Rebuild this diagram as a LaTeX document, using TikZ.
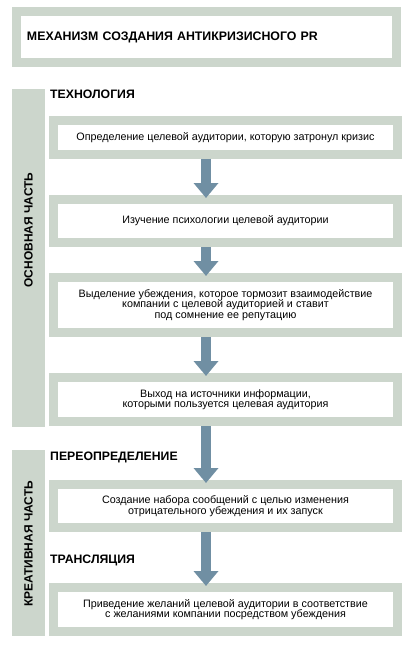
\documentclass[tikz,border=0pt]{standalone}
\usepackage{fontspec}
\setmainfont{Liberation Sans}
\usepackage{xcolor}
\usepackage{tikz}
\usetikzlibrary{positioning,arrows.meta}

\definecolor{framegrey}{RGB}{204,214,204}
\definecolor{arrowblue}{RGB}{112,143,163}

\begin{document}
\begin{tikzpicture}[x=1bp, y=-1bp,
  stepbox/.style={draw=framegrey, line width=9bp, fill=white, minimum width=344bp,
    align=center, inner sep=0pt, font=\fontsize{10.8}{10.6}\selectfont},
  heading/.style={anchor=base west, inner sep=0pt, font=\bfseries\fontsize{12.3}{14}\selectfont},
  sidebar/.style={fill=framegrey, minimum width=33bp, inner sep=0pt},
  sidelabel/.style={rotate=90, inner sep=0pt, font=\bfseries\fontsize{12}{14}\selectfont},
  flow/.style={draw=arrowblue, line width=10bp, -{Triangle[width=24bp, length=15bp]}, shorten >=-3bp}]

\useasboundingbox (0,0) rectangle (411,647);

% title %
\node[draw=framegrey, line width=9bp, fill=white, minimum width=380bp, minimum height=51bp,
  text width=359bp, inner xsep=10.5bp, align=left, font=\bfseries\fontsize{12.4}{14}\selectfont]
  (title) at (206.5,37) {МЕХАНИЗМ СОЗДАНИЯ АНТИКРИЗИСНОГО PR};

% side bars %
\node[sidebar, minimum height=338bp] (mainbar) at (28.5,258) {};
\node[sidebar, minimum height=186bp] (creabar) at (28.5,543) {};
\node[sidelabel] (mainlbl) at (28.5,230) {ОСНОВНАЯ ЧАСТЬ};
\node[sidelabel] (crealbl) at (28.5,544) {КРЕАТИВНАЯ ЧАСТЬ};

% headings %
\node[heading] (tech) at (50,99) {ТЕХНОЛОГИЯ};
\node[heading] (redef) at (50,460) {ПЕРЕОПРЕДЕЛЕНИЕ};
\node[heading] (trans) at (50,563) {ТРАНСЛЯЦИЯ};

% steps %
\node[stepbox, minimum height=34bp] (s1) at (225.5,137.5)
  {Определение целевой аудитории, которую затронул кризис};
\node[stepbox, minimum height=43bp, below=36bp of s1] (s2)
  {Изучение психологии целевой аудитории};
\node[stepbox, minimum height=55bp, below=26bp of s2] (s3)
  {Выделение убеждения, которое тормозит взаимодействие\\компании с целевой аудиторией и ставит\\под сомнение ее репутацию};
\node[stepbox, minimum height=44bp, below=36bp of s3] (s4)
  {Выход на источники информации,\\которыми пользуется целевая аудитория};
\node[stepbox, minimum height=43bp, below=54bp of s4] (s5)
  {Создание набора сообщений с целью изменения\\отрицательного убеждения и их запуск};
\node[stepbox, minimum height=44bp, below=51bp of s5] (s6)
  {Приведение желаний целевой аудитории в соответствие\\с желаниями компании посредством убеждения};

% edges %
\coordinate (axis) at (206,0);
\draw[flow] (s1.south -| axis) -- (s2.north -| axis);
\draw[flow] (s2.south -| axis) -- (s3.north -| axis);
\draw[flow] (s3.south -| axis) -- (s4.north -| axis);
\draw[flow] (s4.south -| axis) -- (s5.north -| axis);
\draw[flow] (s5.south -| axis) -- (s6.north -| axis);

\end{tikzpicture}
\end{document}
